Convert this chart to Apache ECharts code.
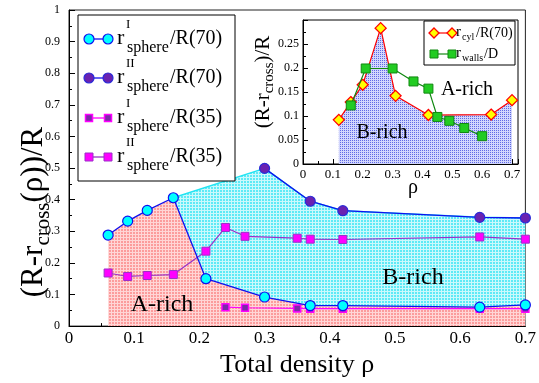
<!DOCTYPE html>
<html><head><meta charset="utf-8">
<script src="https://cdn.jsdelivr.net/npm/echarts@6/dist/echarts.min.js"></script>
<style>html,body{margin:0;padding:0;background:#fff}#c{width:539px;height:383px}</style>
</head><body><div id="c"></div>
<script>
// ---- data ----
const rhoSphI70 = [0.06, 0.09, 0.12, 0.16, 0.21, 0.30, 0.37, 0.42, 0.63, 0.70];
const sphI70    = [0.288, 0.332, 0.366, 0.406, 0.150, 0.092, 0.065, 0.065, 0.060, 0.067];
const rhoSphII70 = [0.30, 0.37, 0.42, 0.63, 0.70];
const sphII70    = [0.499, 0.395, 0.365, 0.344, 0.342];
const rhoSphII35 = [0.06, 0.09, 0.12, 0.16, 0.21, 0.24, 0.27, 0.35, 0.37, 0.42, 0.63, 0.70];
const sphII35    = [0.168, 0.157, 0.160, 0.163, 0.237, 0.312, 0.284, 0.278, 0.275, 0.274, 0.282, 0.275];
const rhoSphI35 = [0.24, 0.27, 0.35, 0.37, 0.42, 0.63, 0.70];
const sphI35    = [0.060, 0.058, 0.056, 0.055, 0.055, 0.055, 0.055];
const rhoCyl = [0.12, 0.16, 0.20, 0.26, 0.31, 0.42, 0.63, 0.70];
const cyl70  = [0.092, 0.129, 0.165, 0.283, 0.142, 0.102, 0.103, 0.133];
const rhoWalls = [0.16, 0.21, 0.30, 0.37, 0.42, 0.45, 0.49, 0.54, 0.60];
const walls    = [0.122, 0.199, 0.199, 0.172, 0.157, 0.098, 0.090, 0.075, 0.058];

const mainXTickLabels = ['0','0.1','0.2','0.3','0.4','0.5','0.6','0.7'];
const mainYTickLabels = ['0','0.1','0.2','0.3','0.4','0.5','0.6','0.7','0.8','0.9','1'];
const insetXTickLabels = ['0','0.1','0.2','0.3','0.4','0.5','0.6','0.7'];
const insetYTickLabels = ['0','0.05','0.1','0.15','0.2','0.25'];

// B-rich upper envelope built from the two R(70) series
const envX = [rhoSphI70[3]].concat(rhoSphII70);
const envY = [sphI70[3]].concat(sphII70);

const pairs = (xs, ys) => xs.map((x, i) => [x, ys[i]]);

function gridPat(bg, fg) {
  const c = document.createElement('canvas'); c.width = 3; c.height = 3;
  const g = c.getContext('2d');
  g.fillStyle = bg; g.fillRect(0, 0, 3, 3);
  g.fillStyle = fg; g.fillRect(0, 0, 3, 1); g.fillRect(0, 0, 1, 3);
  return { image: c, repeat: 'repeat' };
}
function dotPat(bg, fg) {
  const c = document.createElement('canvas'); c.width = 2; c.height = 2;
  const g = c.getContext('2d');
  g.fillStyle = bg; g.fillRect(0, 0, 2, 2);
  g.fillStyle = fg; g.fillRect(0, 0, 1, 1);
  return { image: c, repeat: 'repeat' };
}
const patRed = gridPat('#fc9c9c', '#ffd6d6');
const patCyan = gridPat('#5eeaf6', '#cbf9fc');
const patBlue = dotPat('#d2d6fd', '#5f6ae6');

const SERIF = '"Liberation Serif", "DejaVu Serif", serif';

const chart = echarts.init(document.getElementById('c'), null, { renderer: 'canvas' });

function axisCommon(o) {
  return Object.assign({
    type: 'value',
    axisLine: { show: true, onZero: false, lineStyle: { color: '#000', width: 1 } },
    axisTick: { show: true, inside: true, length: 6, lineStyle: { color: '#000' } },
    minorTick: { show: true, splitNumber: 2, length: 3, lineStyle: { color: '#000' } },
    splitLine: { show: false },
    minorSplitLine: { show: false }
  }, o);
}

// legend graphics
const legG = [];
legG.push({ type: 'rect', shape: { x: 78, y: 15, width: 157, height: 166 }, style: { fill: '#fff', stroke: '#000', lineWidth: 1 }, z: 50 });
const legEntries = [
  { cy: 39, sup: 'I', tail: '/R(70)', line: '#1010ee', sym: 'circle', fill: '#00ffff', stroke: '#1010ee' },
  { cy: 78, sup: 'II', tail: '/R(70)', line: '#1010ee', sym: 'circle', fill: '#6a22b0', stroke: '#2a2ad8' },
  { cy: 118, sup: 'I', tail: '/R(35)', line: '#ff00ff', sym: 'rect', fill: '#7a2aa8', stroke: '#ff00ff', lw: 1.5, s: 7 },
  { cy: 157, sup: 'II', tail: '/R(35)', line: '#9a30c8', sym: 'rect', fill: '#ff00ff', stroke: '#9a30c8', lw: 1, s: 8 }
];
legEntries.forEach(e => {
  legG.push({ type: 'line', shape: { x1: 89, y1: e.cy, x2: 108, y2: e.cy }, style: { stroke: e.line, lineWidth: 1.3 }, z: 51 });
  [89, 108].forEach(x => {
    if (e.sym === 'circle') {
      legG.push({ type: 'circle', shape: { cx: x, cy: e.cy, r: 5 }, style: { fill: e.fill, stroke: e.stroke, lineWidth: 1.2 }, z: 52 });
    } else {
      legG.push({ type: 'rect', shape: { x: x - e.s / 2, y: e.cy - e.s / 2, width: e.s, height: e.s }, style: { fill: e.fill, stroke: e.stroke, lineWidth: e.lw }, z: 52 });
    }
  });
  legG.push({ type: 'text', x: 117, y: e.cy - 1, style: { text: 'r', font: '22px ' + SERIF, fill: '#000', align: 'left', verticalAlign: 'middle' }, z: 52 });
  legG.push({ type: 'text', x: 126, y: e.cy - 14, style: { text: e.sup, font: '13px ' + SERIF, fill: '#000', align: 'left', verticalAlign: 'middle' }, z: 52 });
  legG.push({ type: 'text', x: 127, y: e.cy + 9, style: { text: 'sphere', font: '16px ' + SERIF, fill: '#000', align: 'left', verticalAlign: 'middle' }, z: 52 });
  legG.push({ type: 'text', x: 170, y: e.cy, style: { text: e.tail, font: '20px ' + SERIF, fill: '#000', align: 'left', verticalAlign: 'middle' }, z: 52 });
});

// inset legend
legG.push({ type: 'rect', shape: { x: 424, y: 21, width: 91, height: 44 }, style: { fill: '#fff', stroke: '#000', lineWidth: 1 }, z: 50 });
legG.push({ type: 'line', shape: { x1: 434, y1: 33, x2: 452, y2: 33 }, style: { stroke: '#ff0000', lineWidth: 1.2 }, z: 51 });
[434, 452].forEach(x => legG.push({ type: 'polygon', shape: { points: [[x, 28], [x + 5, 33], [x, 38], [x - 5, 33]] }, style: { fill: '#ffff00', stroke: '#ff0000', lineWidth: 1.3 }, z: 52 }));
legG.push({ type: 'line', shape: { x1: 434, y1: 54, x2: 452, y2: 54 }, style: { stroke: '#118811', lineWidth: 1.2 }, z: 51 });
[434, 452].forEach(x => legG.push({ type: 'rect', shape: { x: x - 4, y: 50, width: 8, height: 8 }, style: { fill: '#22cc22', stroke: '#118811', lineWidth: 1 }, z: 52 }));
legG.push({ type: 'text', x: 456, y: 32, style: { text: 'r', font: '15px ' + SERIF, fill: '#000', align: 'left', verticalAlign: 'middle' }, z: 52 });
legG.push({ type: 'text', x: 462, y: 37, style: { text: 'cyl', font: '10px ' + SERIF, fill: '#000', align: 'left', verticalAlign: 'middle' }, z: 52 });
legG.push({ type: 'text', x: 476, y: 33, style: { text: '/R(70)', font: '14px ' + SERIF, fill: '#000', align: 'left', verticalAlign: 'middle' }, z: 52 });
legG.push({ type: 'text', x: 456, y: 53, style: { text: 'r', font: '15px ' + SERIF, fill: '#000', align: 'left', verticalAlign: 'middle' }, z: 52 });
legG.push({ type: 'text', x: 462, y: 58, style: { text: 'walls', font: '10px ' + SERIF, fill: '#000', align: 'left', verticalAlign: 'middle' }, z: 52 });
legG.push({ type: 'text', x: 484, y: 54, style: { text: '/D', font: '14px ' + SERIF, fill: '#000', align: 'left', verticalAlign: 'middle' }, z: 52 });

// region labels and axis titles
legG.push({ type: 'text', x: 162, y: 305, style: { text: 'A-rich', font: '24px ' + SERIF, fill: '#000', align: 'center', verticalAlign: 'middle' }, z: 40 });
legG.push({ type: 'text', x: 413, y: 278, style: { text: 'B-rich', font: '24px ' + SERIF, fill: '#000', align: 'center', verticalAlign: 'middle' }, z: 40 });
legG.push({ type: 'text', x: 467, y: 90, style: { text: 'A-rich', font: '20px ' + SERIF, fill: '#000', align: 'center', verticalAlign: 'middle' }, z: 40 });
legG.push({ type: 'text', x: 382, y: 133, style: { text: 'B-rich', font: '20px ' + SERIF, fill: '#000', align: 'center', verticalAlign: 'middle' }, z: 40 });
legG.push({ type: 'text', x: 34, y: 212, rotation: Math.PI / 2, style: {
  text: '{a|(R-r}{s|cross}{a|(ρ))/R}', align: 'center', verticalAlign: 'middle', fill: '#000',
  rich: { a: { fontSize: 31, fontFamily: SERIF, lineHeight: 40, fill: '#000' }, s: { fontSize: 21, fontFamily: SERIF, lineHeight: 21, verticalAlign: 'bottom', fill: '#000' } }
}, z: 40 });
legG.push({ type: 'text', x: 263, y: 82, rotation: Math.PI / 2, style: {
  text: '{a|(R-r}{s|cross}{a|)/R}', align: 'center', verticalAlign: 'middle', fill: '#000',
  rich: { a: { fontSize: 21, fontFamily: SERIF, lineHeight: 27, fill: '#000' }, s: { fontSize: 15, fontFamily: SERIF, lineHeight: 15, verticalAlign: 'bottom', fill: '#000' } }
}, z: 40 });
legG.push({ type: 'text', x: 413, y: 188, style: { text: 'ρ', font: '20px ' + SERIF, fill: '#000', align: 'center', verticalAlign: 'middle' }, z: 40 });

chart.setOption({
  animation: false,
  backgroundColor: '#fff',
  grid: [
    { left: 69, right: 12, top: 10, bottom: 48, show: true, borderColor: '#222', borderWidth: 1, backgroundColor: 'transparent' },
    { left: 303, right: 21, top: 20, bottom: 219, show: true, borderColor: '#000', borderWidth: 1, backgroundColor: '#fff' }
  ],
  xAxis: [
    axisCommon({ gridIndex: 0, min: 0, max: 0.7, interval: 0.1,
      axisLabel: { fontSize: 17, fontFamily: SERIF, color: '#000', margin: 4, formatter: (v, i) => mainXTickLabels[i] ?? '' },
      name: 'Total density ρ', nameLocation: 'middle', nameGap: 21,
      nameTextStyle: { fontSize: 26, fontFamily: SERIF, color: '#000' } }),
    axisCommon({ gridIndex: 1, min: 0, max: 0.72, interval: 0.1,
      axisTick: { show: true, inside: true, length: 5, lineStyle: { color: '#000' } },
      axisLabel: { fontSize: 13, fontFamily: SERIF, color: '#000', margin: 4, showMaxLabel: false, formatter: (v, i) => insetXTickLabels[i] ?? '' } })
  ],
  yAxis: [
    axisCommon({ gridIndex: 0, min: 0, max: 1, interval: 0.1,
      axisLabel: { fontSize: 12, fontFamily: SERIF, color: '#000', margin: 9, formatter: (v, i) => mainYTickLabels[i] ?? '' } }),
    axisCommon({ gridIndex: 1, min: 0, max: 0.3, interval: 0.05,
      axisTick: { show: true, inside: true, length: 5, lineStyle: { color: '#000' } },
      axisLabel: { fontSize: 12, fontFamily: SERIF, color: '#000', margin: 4, showMaxLabel: false, formatter: (v, i) => insetYTickLabels[i] ?? '' } })
  ],
  graphic: legG,
  series: [
    { type: 'line', name: 'B-rich', xAxisIndex: 0, yAxisIndex: 0, data: pairs(envX, envY), symbol: 'none',
      lineStyle: { color: '#22e4f2', width: 1.5 }, areaStyle: { color: patCyan, opacity: 1 }, z: 1, silent: true },
    { type: 'line', name: 'A-rich', xAxisIndex: 0, yAxisIndex: 0, data: pairs(rhoSphI70, sphI70), symbol: 'none',
      lineStyle: { width: 0 }, areaStyle: { color: patRed, opacity: 1 }, z: 1, silent: true },
    { type: 'line', name: 'r^II sphere/R(35)', xAxisIndex: 0, yAxisIndex: 0, data: pairs(rhoSphII35, sphII35),
      symbol: 'rect', symbolSize: 8, showAllSymbol: true,
      itemStyle: { color: '#ff00ff', borderColor: '#9a30c8', borderWidth: 1 }, lineStyle: { color: '#9a30c8', width: 1.2 }, z: 4 },
    { type: 'line', name: 'r^I sphere/R(35)', xAxisIndex: 0, yAxisIndex: 0, data: pairs(rhoSphI35, sphI35),
      symbol: 'rect', symbolSize: 7, showAllSymbol: true,
      itemStyle: { color: '#7a2aa8', borderColor: '#ff00ff', borderWidth: 1.5 }, lineStyle: { color: '#ff00ff', width: 1.2 }, z: 4 },
    { type: 'line', name: 'r^I sphere/R(70)', xAxisIndex: 0, yAxisIndex: 0, data: pairs(rhoSphI70, sphI70),
      symbol: 'circle', symbolSize: 10, showAllSymbol: true,
      itemStyle: { color: '#00ffff', borderColor: '#1010ee', borderWidth: 1.2 }, lineStyle: { color: '#1010ee', width: 1.3 }, z: 5 },
    { type: 'line', name: 'r^II sphere/R(70)', xAxisIndex: 0, yAxisIndex: 0, data: pairs(rhoSphII70, sphII70),
      symbol: 'circle', symbolSize: 10, showAllSymbol: true,
      itemStyle: { color: '#6a22b0', borderColor: '#2a2ad8', borderWidth: 1.2 }, lineStyle: { color: '#1010ee', width: 1.3 }, z: 5 },
    { type: 'line', name: 'r_cyl/R(70)', xAxisIndex: 1, yAxisIndex: 1, data: pairs(rhoCyl, cyl70),
      symbol: 'diamond', symbolSize: 11, showAllSymbol: true,
      itemStyle: { color: '#ffff00', borderColor: '#ff0000', borderWidth: 1.3 }, lineStyle: { color: '#ff0000', width: 1.2 },
      areaStyle: { color: patBlue, opacity: 1 }, z: 6 },
    { type: 'line', name: 'r_walls/D', xAxisIndex: 1, yAxisIndex: 1, data: pairs(rhoWalls, walls),
      symbol: 'rect', symbolSize: 9, showAllSymbol: true,
      itemStyle: { color: '#22cc22', borderColor: '#118811', borderWidth: 1 }, lineStyle: { color: '#118811', width: 1.2 }, z: 7 }
  ]
});
</script>
</body></html>
